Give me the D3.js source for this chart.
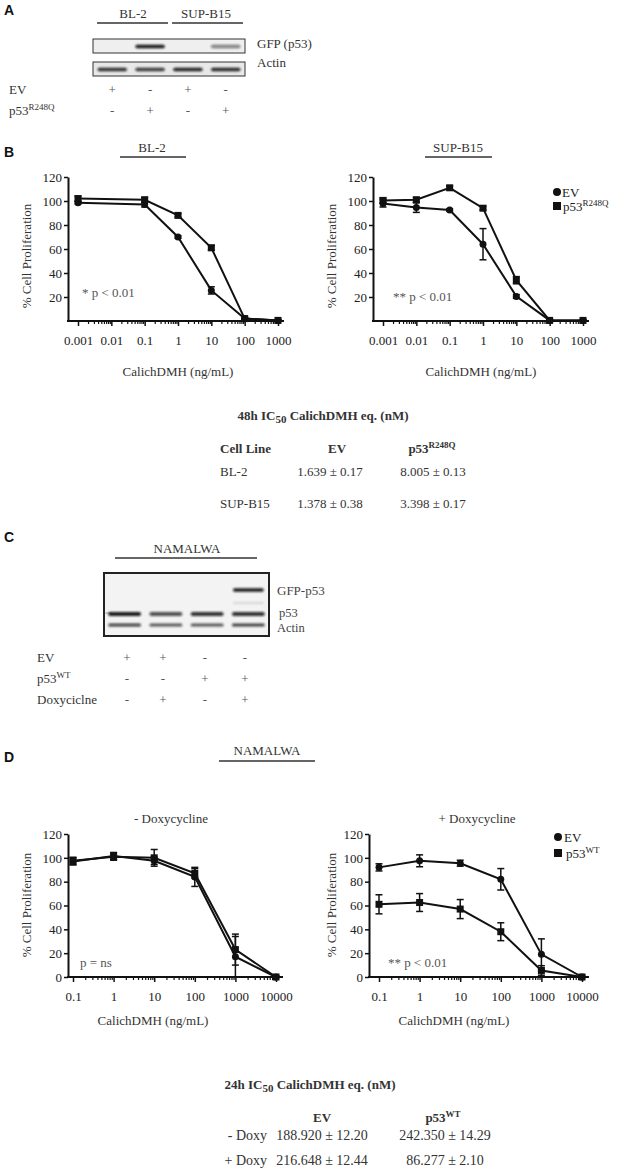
<!DOCTYPE html>
<html><head><meta charset="utf-8">
<script src="https://d3js.org/d3.v7.min.js"></script>
<style>body{margin:0;background:#fff}svg{display:block}
svg text{font-family:"Liberation Serif","Tinos","Times New Roman","DejaVu Serif",serif}
svg text.sans{font-family:"Liberation Sans",Arial,"DejaVu Sans",sans-serif}</style>
</head><body>
<svg id="c" width="619" height="1172"></svg>
<script>
// ---------- DATA ----------
const bl2Conc = [0.001, 0.1, 1, 10, 100, 1000];
const bl2EV = [98.5, 97, 70, 25.5, 2, 0.5];
const bl2EVErr = [1, 2, 1, 3, 1, 0.5];
const bl2P53 = [102, 101, 88, 61, 2, 0.5];
const bl2P53Err = [2, 2, 1.5, 2, 1, 0.5];

const supConc = [0.001, 0.01, 0.1, 1, 10, 100, 1000];
const supEV = [98, 94.5, 92.5, 64, 20.5, 0.5, 0.5];
const supEVErr = [3, 4, 1, 13, 1.5, 0.5, 0.5];
const supP53 = [100.5, 101, 111, 94, 34, 0.5, 0.5];
const supP53Err = [2, 2, 1.5, 1.5, 3, 0.5, 0.5];

const namConc = [0.1, 1, 10, 100, 1000, 10000];
const minusEV = [97, 101.5, 97.5, 84, 17, 0];
const minusEVErr = [3, 3, 3, 8, 17, 0.5];
const minusP53 = [97.5, 101, 100, 87, 23, 0];
const minusP53Err = [3, 3, 7, 4, 13, 0.5];
const plusEV = [92, 97.5, 95.5, 82, 19, 0];
const plusEVErr = [3, 5, 2.5, 9, 13, 0.5];
const plusP53 = [61, 62.5, 57, 38, 5.5, 0];
const plusP53Err = [8, 7.5, 8, 7.5, 4, 0.5];

const ticksB = [0.001, 0.01, 0.1, 1, 10, 100, 1000];
const tickLabelsB = ["0.001", "0.01", "0.1", "1", "10", "100", "1000"];
const ticksD = [0.1, 1, 10, 100, 1000, 10000];
const tickLabelsD = ["0.1", "1", "10", "100", "1000", "10000"];
const yTicksB = [20, 40, 60, 80, 100, 120];
const yTicksD = [0, 20, 40, 60, 80, 100, 120];

// Blots (band intensities per lane, 0..1)
const lanesA = ["1", "2", "3", "4"];
const gfpA = [0, 0.95, 0, 0.5];
const actinA = [0.85, 0.8, 0.9, 0.88];
const evA = ["+", "-", "+", "-"];
const mutA = ["-", "+", "-", "+"];

const lanesC = ["1", "2", "3", "4"];
const gfpC = [0, 0, 0, 0.95];
const faintC = [0, 0, 0, 0.12];
const p53C = [0.95, 0.72, 0.85, 0.85];
const actinC = [0.78, 0.7, 0.7, 0.8];
const evC = ["+", "+", "-", "-"];
const wtC = ["-", "-", "+", "+"];
const doxC = ["-", "+", "-", "+"];

const ic50Rows48 = ["BL-2", "SUP-B15"];
const ic50EV48 = ["1.639 ± 0.17", "1.378 ± 0.38"];
const ic50P5348 = ["8.005 ± 0.13", "3.398 ± 0.17"];
const ic50Rows24 = ["- Doxy", "+ Doxy"];
const ic50EV24 = ["188.920 ± 12.20", "216.648 ± 12.44"];
const ic50P5324 = ["242.350 ± 14.29", "86.277 ± 2.10"];

// ---------- DRAW ----------
const svg = d3.select("#c");
const TXT = "#333";

const defs = svg.append("defs");
defs.append("filter").attr("id", "blur").attr("x", "-20%").attr("y", "-100%").attr("width", "140%").attr("height", "300%")
  .append("feGaussianBlur").attr("stdDeviation", 0.9);

function text(x, y, s, opt = {}) {
  const t = svg.append("text").attr("x", x).attr("y", y).text(s)
    .attr("font-size", opt.size || 13)
    .attr("font-weight", opt.weight || "normal").attr("fill", opt.fill || TXT)
    .attr("text-anchor", opt.anchor || "start");
  if (opt.sans) t.attr("class", "sans");
  return t;
}
function supText(x, y, base, sup, opt = {}) {
  const t = text(x, y, "", opt);
  t.append("tspan").text(base);
  t.append("tspan").text(sup).attr("font-size", opt.supSize || 9).attr("dy", -5);
  return t;
}
function hline(x1, x2, y, w = 1.3, c = "#333") {
  svg.append("line").attr("x1", x1).attr("x2", x2).attr("y1", y).attr("y2", y)
    .attr("stroke", c).attr("stroke-width", w);
}

// panel letters
[["A", 4, 15], ["B", 4, 157], ["C", 4, 542], ["D", 4, 762]].forEach(([l, x, y]) =>
  text(x, y, l, { sans: true, weight: "bold", size: 14, fill: "#111" }));

// ---- Panel A blot ----
const xA = d3.scaleBand().domain(lanesA).range([93, 245]).paddingInner(0.22).paddingOuter(0.12);
text(133, 18, "BL-2", { anchor: "middle" });
text(206, 18, "SUP-B15", { anchor: "middle" });
hline(97, 168, 23); hline(172, 243, 23);
svg.append("rect").attr("x", 93).attr("y", 39).attr("width", 152).attr("height", 14)
  .attr("fill", "#efefef").attr("stroke", "#333").attr("stroke-width", 1);
svg.append("rect").attr("x", 93).attr("y", 62).attr("width", 152).attr("height", 14)
  .attr("fill", "#e8e8e8").attr("stroke", "#333").attr("stroke-width", 1);
function bands(scale, vals, cy, h, gw = 0) {
  svg.append("g").attr("filter", "url(#blur)").selectAll("rect").data(vals).join("rect")
    .attr("x", (d, i) => scale(scale.domain()[i]) - gw)
    .attr("width", scale.bandwidth() + 2 * gw)
    .attr("y", cy - h / 2).attr("height", h).attr("rx", h / 2)
    .attr("fill", "#111").attr("opacity", d => d);
}
bands(xA, gfpA, 46.5, 3.5);
bands(xA, actinA, 69.5, 3.5);
text(257, 48, "GFP (p53)");
text(257, 67, "Actin");
text(9, 94, "EV");
supText(9, 115, "p53", "R248Q");
svg.append("g").selectAll("text").data(evA).join("text")
  .attr("x", (d, i) => xA(lanesA[i]) + xA.bandwidth() / 2).attr("y", 94).text(d => d)
  .attr("text-anchor", "middle").attr("font-size", 13).attr("fill", "#555");
svg.append("g").selectAll("text").data(mutA).join("text")
  .attr("x", (d, i) => xA(lanesA[i]) + xA.bandwidth() / 2).attr("y", 115).text(d => d)
  .attr("text-anchor", "middle").attr("font-size", 13).attr("fill", "#555");

// ---- dose-response plots ----
function plot(cfg) {
  const g = svg.append("g");
  const x = d3.scaleLog().domain([cfg.ticks[0], cfg.ticks[cfg.ticks.length - 1]]).range([cfg.x0, cfg.x1]);
  const y = d3.scaleLinear().domain([0, 120]).range([cfg.yb, cfg.yt]);
  const ya = g.append("g").attr("transform", `translate(${cfg.ax},0)`)
    .call(d3.axisLeft(y).tickValues(cfg.yTicks).tickSize(4).tickPadding(2).tickSizeOuter(0));
  ya.select(".domain").attr("stroke-width", 2).attr("stroke", "#111");
  ya.selectAll(".tick line").attr("stroke-width", 1.5).attr("stroke", "#111");
  ya.selectAll("text").attr("font-family", null).attr("font-size", 13).attr("fill", "#222");
  ya.attr("font-family", null);
  g.append("line").attr("x1", cfg.ax - 1).attr("x2", cfg.axEnd).attr("y1", cfg.yb).attr("y2", cfg.yb)
    .attr("stroke", "#111").attr("stroke-width", 2);
  const xa = g.append("g").attr("transform", `translate(0,${cfg.yb})`)
    .call(d3.axisBottom(x).tickValues(cfg.ticks).tickFormat((d, i) => cfg.tickLabels[i]).tickSize(5).tickPadding(10));
  xa.attr("font-family", null);
  xa.select(".domain").remove();
  xa.selectAll(".tick line").attr("stroke-width", 1.5).attr("stroke", "#111");
  xa.selectAll("text").attr("font-size", 13).attr("fill", "#222");
  const minor = [];
  cfg.ticks.slice(0, -1).forEach(t => { for (let k = 2; k <= 9; k++) minor.push(t * k); });
  const xm = g.append("g").attr("transform", `translate(0,${cfg.yb})`)
    .call(d3.axisBottom(x).tickValues(minor).tickFormat("").tickSize(3));
  xm.select(".domain").remove();
  xm.selectAll(".tick line").attr("stroke-width", 1.2).attr("stroke", "#111");
  text(cfg.xTitleX, cfg.xTitleY, "CalichDMH (ng/mL)", { anchor: "middle" });
  svg.append("text").attr("transform", `translate(${cfg.yTitleX},${cfg.yTitleY}) rotate(-90)`)
    .attr("text-anchor", "middle").attr("font-size", 13).attr("fill", TXT)
    .text("% Cell Proliferation");
  cfg.series.forEach(s => {
    const pts = s.vals.map((v, i) => ({ c: s.conc[i], v, e: s.err[i] }));
    g.append("path").datum(pts).attr("fill", "none").attr("stroke", "#111").attr("stroke-width", 2)
      .attr("d", d3.line().x(d => x(d.c)).y(d => y(d.v)));
    const eb = g.append("g").selectAll("g").data(pts).join("g");
    eb.append("line").attr("x1", d => x(d.c)).attr("x2", d => x(d.c))
      .attr("y1", d => y(Math.max(0, d.v - d.e))).attr("y2", d => y(d.v + d.e))
      .attr("stroke", "#111").attr("stroke-width", 1.5);
    [d => d.v + d.e, d => Math.max(0, d.v - d.e)].forEach(f => {
      eb.append("line").attr("x1", d => x(d.c) - 3.5).attr("x2", d => x(d.c) + 3.5)
        .attr("y1", d => y(f(d))).attr("y2", d => y(f(d))).attr("stroke", "#111").attr("stroke-width", 1.5);
    });
    if (s.shape === "circle") {
      g.append("g").selectAll("circle").data(pts).join("circle")
        .attr("cx", d => x(d.c)).attr("cy", d => y(d.v)).attr("r", 3.5).attr("fill", "#111");
    } else {
      g.append("g").selectAll("rect").data(pts).join("rect")
        .attr("x", d => x(d.c) - 3.5).attr("y", d => y(d.v) - 3.5).attr("width", 7).attr("height", 7).attr("fill", "#111");
    }
  });
  return { x, y };
}

// Panel B
text(152, 152, "BL-2", { anchor: "middle" }); hline(120, 186, 157);
text(458, 152, "SUP-B15", { anchor: "middle" }); hline(425, 492, 157);
plot({ ax: 68, axEnd: 284, x0: 78, x1: 278, yt: 177, yb: 321, ticks: ticksB, tickLabels: tickLabelsB, yTicks: yTicksB,
  xTitleX: 178, xTitleY: 376, yTitleX: 31, yTitleY: 256,
  series: [{ conc: bl2Conc, vals: bl2EV, err: bl2EVErr, shape: "circle" },
           { conc: bl2Conc, vals: bl2P53, err: bl2P53Err, shape: "square" }] });
plot({ ax: 373, axEnd: 589, x0: 383, x1: 583, yt: 177, yb: 321, ticks: ticksB, tickLabels: tickLabelsB, yTicks: yTicksB,
  xTitleX: 481, xTitleY: 376, yTitleX: 336, yTitleY: 256,
  series: [{ conc: supConc, vals: supEV, err: supEVErr, shape: "circle" },
           { conc: supConc, vals: supP53, err: supP53Err, shape: "square" }] });
text(82, 297, "* p < 0.01", { fill: "#555" });
text(393, 301, "** p < 0.01", { fill: "#555" });
svg.append("circle").attr("cx", 557).attr("cy", 192).attr("r", 4).attr("fill", "#111");
text(562, 197, "EV", { fill: "#222" });
svg.append("rect").attr("x", 553).attr("y", 202).attr("width", 8).attr("height", 8).attr("fill", "#111");
supText(563, 211, "p53", "R248Q", { fill: "#222" });

// Table 48h
const t48 = text(323, 420, "", { anchor: "middle", weight: "bold" });
t48.append("tspan").text("48h IC");
t48.append("tspan").text("50").attr("font-size", 11).attr("dy", 3);
t48.append("tspan").text(" CalichDMH eq. (nM)").attr("dy", -3);
text(220, 453, "Cell Line", { weight: "bold" });
text(337, 453, "EV", { weight: "bold", anchor: "middle" });
supText(432, 453, "p53", "R248Q", { weight: "bold", anchor: "middle" });
ic50Rows48.forEach((r, i) => {
  const yy = 476 + i * 32;
  text(220, yy, r);
  text(330, yy, ic50EV48[i], { anchor: "middle" });
  text(433, yy, ic50P5348[i], { anchor: "middle" });
});

// ---- Panel C blot ----
text(187, 553, "NAMALWA", { anchor: "middle" }); hline(115, 257, 558);
const xC = d3.scaleBand().domain(lanesC).range([104, 269]).paddingInner(0.3).paddingOuter(0.15);
svg.append("rect").attr("x", 104).attr("y", 573).attr("width", 165).attr("height", 63)
  .attr("fill", "#f3f3f3").attr("stroke", "#222").attr("stroke-width", 2);
svg.append("line").attr("x1", 105).attr("x2", 112).attr("y1", 613).attr("y2", 613).attr("stroke", "#999").attr("stroke-width", 0.8);
bands(xC, gfpC, 590, 3.5, 1);
bands(xC, faintC, 603, 2, 1);
bands(xC, p53C, 614, 4, 2);
bands(xC, actinC, 625, 3, 2);
text(277, 595, "GFP-p53", { fill: "#444" });
text(279, 617, "p53", { fill: "#444", size: 12.5 });
text(277, 632, "Actin", { fill: "#444", size: 12.5 });
text(37, 662, "EV");
supText(37, 683, "p53", "WT");
text(37, 704, "Doxyciclne");
const pmX = [127, 163, 205, 245];
[[evC, 662], [wtC, 683], [doxC, 704]].forEach(([arr, yy]) => {
  svg.append("g").selectAll("text").data(arr).join("text")
    .attr("x", (d, i) => pmX[i]).attr("y", yy).text(d => d)
    .attr("text-anchor", "middle").attr("font-size", 13).attr("fill", "#555");
});

// ---- Panel D ----
text(267, 755, "NAMALWA", { anchor: "middle" }); hline(219, 315, 761);
text(171, 823, "- Doxycycline", { anchor: "middle" });
text(477, 823, "+ Doxycycline", { anchor: "middle" });
plot({ ax: 68, axEnd: 283, x0: 73, x1: 276, yt: 834, yb: 977, ticks: ticksD, tickLabels: tickLabelsD, yTicks: yTicksD,
  xTitleX: 153, xTitleY: 1025, yTitleX: 31, yTitleY: 905,
  series: [{ conc: namConc, vals: minusEV, err: minusEVErr, shape: "circle" },
           { conc: namConc, vals: minusP53, err: minusP53Err, shape: "square" }] });
plot({ ax: 369, axEnd: 589, x0: 379, x1: 582, yt: 834, yb: 977, ticks: ticksD, tickLabels: tickLabelsD, yTicks: yTicksD,
  xTitleX: 454, xTitleY: 1025, yTitleX: 336, yTitleY: 905,
  series: [{ conc: namConc, vals: plusEV, err: plusEVErr, shape: "circle" },
           { conc: namConc, vals: plusP53, err: plusP53Err, shape: "square" }] });
text(80, 967, "p = ns", { fill: "#555" });
text(388, 967, "** p < 0.01", { fill: "#555" });
svg.append("circle").attr("cx", 558).attr("cy", 837).attr("r", 4).attr("fill", "#111");
text(564, 842, "EV", { fill: "#222" });
svg.append("rect").attr("x", 554).attr("y", 849).attr("width", 8).attr("height", 8).attr("fill", "#111");
supText(566, 858, "p53", "WT", { fill: "#222" });

// Table 24h
const t24 = text(310, 1089, "", { anchor: "middle", weight: "bold" });
t24.append("tspan").text("24h IC");
t24.append("tspan").text("50").attr("font-size", 11).attr("dy", 3);
t24.append("tspan").text(" CalichDMH eq. (nM)").attr("dy", -3);
text(322, 1122, "EV", { weight: "bold", anchor: "middle" });
supText(443, 1122, "p53", "WT", { weight: "bold", anchor: "middle" });
ic50Rows24.forEach((r, i) => {
  const yy = 1140 + i * 25;
  text(267, yy, r, { anchor: "end", size: 14 });
  text(322, yy, ic50EV24[i], { anchor: "middle", size: 14 });
  text(445, yy, ic50P5324[i], { anchor: "middle", size: 14 });
});
</script>
</body></html>
